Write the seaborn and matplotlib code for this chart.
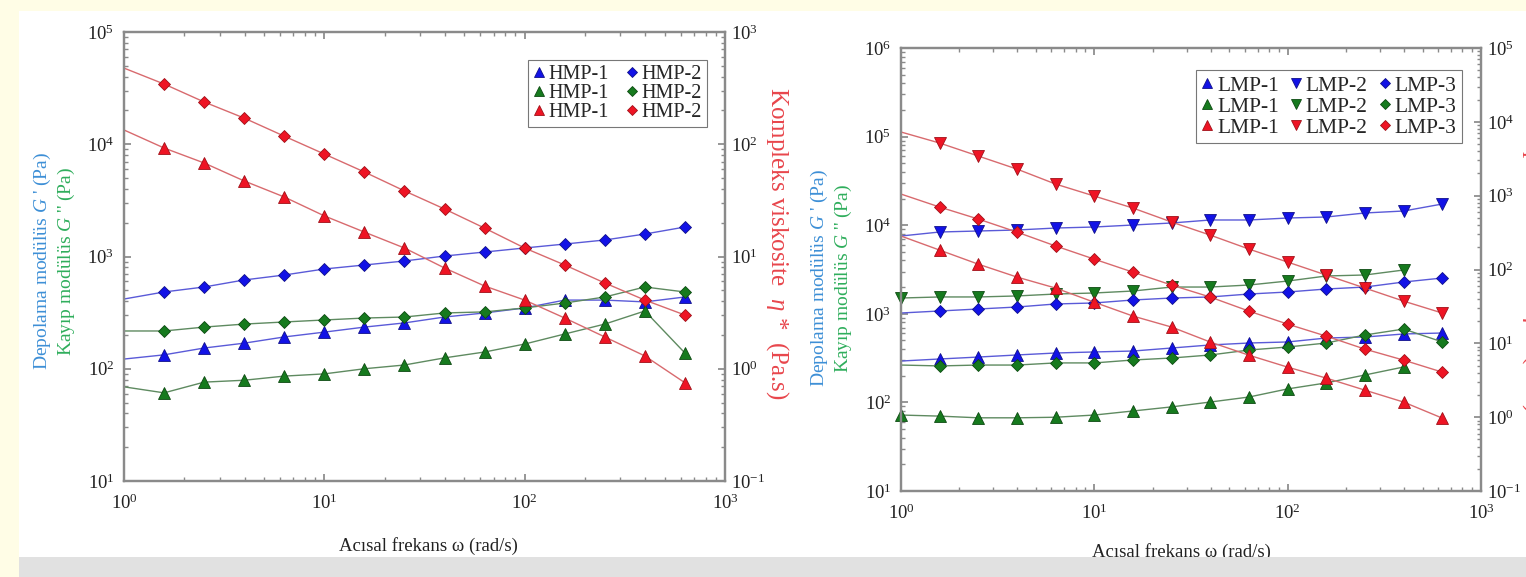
import numpy as np
import pandas as pd
import matplotlib
matplotlib.use("Agg")
import matplotlib.pyplot as plt
from matplotlib.lines import Line2D
from matplotlib.patches import Rectangle
import seaborn as sns

# angular frequency (rad/s), first point has no marker on most curves
freq = [1.0, 1.585, 2.512, 3.981, 6.31, 10.0, 15.85, 25.12, 39.81, 63.1,
        100.0, 158.5, 251.2, 398.1, 631.0]

# left panel (HMP)
hmp1_gp = [122, 133, 153, 169, 192, 212, 235, 256, 289, 314, 348, 409, 409, 394, 436]
hmp1_gpp = [69, 61, 76, 79, 86, 90, 100, 108, 125, 141, 166, 204, 250, 327, 138]
hmp1_eta = [134, 92.6, 68.1, 47.1, 33.9, 23.0, 16.5, 11.9, 7.9, 5.46, 4.09, 2.83, 1.92, 1.30, 0.75]
hmp2_gp = [418, 483, 535, 618, 684, 774, 840, 912, 1010, 1096, 1191, 1291, 1403, 1585, 1831]
hmp2_gpp = [217, 217, 235, 250, 261, 272, 283, 289, 314, 321, 348, 385, 436, 535, 483]
hmp2_eta = [477, 344, 238, 171, 118, 81.8, 56.6, 38.4, 26.5, 17.9, 11.9, 8.4, 5.81, 4.09, 3.01]

# right panel (LMP)
lmp1_gp = [293, 309, 325, 343, 361, 371, 380, 411, 445, 468, 481, 533, 547, 592, 607]
lmp1_gpp = [72, 70, 67, 67, 68, 72, 80, 89, 101, 115, 142, 166, 204, 251]
lmp1_eta = [284, 183, 118, 79, 56, 36, 23.4, 16.6, 10.4, 6.9, 4.76, 3.38, 2.32, 1.60, 0.97]
lmp2_gp = [7550, 8380, 8600, 8830, 9290, 9540, 10050, 10590, 11450, 11450, 12050, 12380,
           13740, 14460, 17350]
lmp2_gpp = [1507, 1549, 1549, 1590, 1672, 1717, 1808, 2005, 2005, 2113, 2343, 2672, 2742, 3120]
lmp2_eta = [7280, 5160, 3440, 2290, 1435, 988, 679, 439, 292, 189, 126, 84, 56, 37.3, 25.7]
lmp3_gp = [1021, 1076, 1133, 1193, 1291, 1325, 1432, 1507, 1549, 1672, 1762, 1905, 2005,
           2284, 2535]
lmp3_gpp = [264, 258, 264, 264, 279, 279, 301, 317, 343, 390, 422, 468, 577, 673, 481]
lmp3_eta = [1051, 701, 482, 321, 208, 138, 92, 61.5, 42.3, 27.3, 18.2, 12.5, 8.34, 5.92, 4.07]

sns.set_theme(style="ticks")
plt.rcParams['font.family'] = ['Liberation Serif', 'DejaVu Serif']
plt.rcParams['mathtext.fontset'] = 'custom'
plt.rcParams['mathtext.rm'] = 'Liberation Serif'
plt.rcParams['mathtext.it'] = 'Liberation Serif:italic'

mk_col = {'b': '#1212e6', 'g': '#167a1e', 'r': '#ee1424'}
ln_col = {'b': '#5a5ad8', 'g': '#5e8a60', 'r': '#d86a6e'}
edge_col = {'b': '#10108a', 'g': '#0d4a12', 'r': '#a01018'}
ms = {'^': 8.5, 'v': 8.5, 'D': 6.5}

fig = plt.figure(figsize=(15.26, 5.77), dpi=100, facecolor='#fffde6')
fig.patches.append(Rectangle((19 / 1526, 20 / 577), 1.0, 546 / 577, transform=fig.transFigure,
                             facecolor='white', edgecolor='none', zorder=-5))
fig.patches.append(Rectangle((19 / 1526, 0), 1.0, 20 / 577, transform=fig.transFigure,
                             facecolor='#e1e1e1', edgecolor='none', zorder=20))

axL = fig.add_axes([124 / 1526, 1 - 481 / 577, 601 / 1526, 449 / 577])
axR = fig.add_axes([901 / 1526, 1 - 491 / 577, 580 / 1526, 443 / 577])
axL2 = axL.twinx()
axR2 = axR.twinx()


def draw(ax, vals, c, m, first_marker=False):
    n = len(vals)
    sns.lineplot(x=freq[:n], y=vals, ax=ax, color=ln_col[c], linewidth=1.0,
                 marker=m, markersize=ms[m], markerfacecolor=mk_col[c],
                 markeredgecolor=edge_col[c], markeredgewidth=0.6,
                 markevery=None if first_marker else slice(1, None),
                 estimator=None, sort=False, legend=False, clip_on=False)


# left panel
draw(axL, hmp1_gp, 'b', '^')
draw(axL, hmp1_gpp, 'g', '^')
draw(axL, hmp2_gp, 'b', 'D')
draw(axL, hmp2_gpp, 'g', 'D')
draw(axL2, hmp1_eta, 'r', '^')
draw(axL2, hmp2_eta, 'r', 'D')

# right panel
draw(axR, lmp1_gp, 'b', '^')
draw(axR, lmp1_gpp, 'g', '^', first_marker=True)
draw(axR, lmp2_gp, 'b', 'v')
draw(axR, lmp2_gpp, 'g', 'v', first_marker=True)
draw(axR, lmp3_gp, 'b', 'D')
draw(axR, lmp3_gpp, 'g', 'D')
draw(axR2, lmp1_eta, 'r', '^')
draw(axR2, lmp2_eta, 'r', 'v')
draw(axR2, lmp3_eta, 'r', 'D')

axL.set_ylim(10, 1e5)
axL2.set_ylim(0.1, 1e3)
axR.set_ylim(10, 1e6)
axR2.set_ylim(0.1, 1e5)
for ax in (axL, axL2, axR, axR2):
    ax.set_xscale('log')
    ax.set_yscale('log')
    ax.set_xlim(1, 1000)
    ax.set_xlabel('')
    ax.set_ylabel('')
    for s in ax.spines.values():
        s.set_color('#8a8a8a')
        s.set_linewidth(1.6)
    ax.tick_params(which='both', direction='in', colors='#8a8a8a', labelcolor='#222222',
                   labelsize=13.5, top=True)
    ax.tick_params(which='major', length=5)
    ax.tick_params(which='minor', length=3)
    ax.patch.set_alpha(0)

for ax in (axL, axR):
    ax.tick_params(axis='y', pad=7)
    ax.tick_params(axis='x', pad=9)
for ax in (axL2, axR2):
    ax.tick_params(axis='y', pad=4)
    ax.tick_params(axis='x', labelbottom=False)

axL.set_facecolor('white')
axL.patch.set_alpha(1)
axR.set_facecolor('white')
axR.patch.set_alpha(1)

blue_lab = '#3d8fd6'
green_lab = '#2fae5c'
red_lab = '#e8464c'

# y labels (two colored lines)
for ax, xb, xg, yc in ((axL, -0.135, -0.095, 0.49), (axR, -0.14, -0.099, 0.48)):
    ax.text(xb, yc, "Depolama modülüs $\\mathit{G}$ ' (Pa)", transform=ax.transAxes,
            rotation=90, ha='center', va='center', color=blue_lab, fontsize=14)
    ax.text(xg, yc, "Kayıp modülüs $\\mathit{G}$ '' (Pa)", transform=ax.transAxes,
            rotation=90, ha='center', va='center', color=green_lab, fontsize=14)

axL2.text(1.087, 0.53, "Kompleks viskosite  $\\mathit{\\eta}$ *  (Pa.s)", transform=axL2.transAxes,
          rotation=-90, ha='center', va='center', color=red_lab, fontsize=18)
axR2.text(1.09, 0.53, "Kompleks viskosite  $\\mathit{\\eta}$ *  (Pa.s)", transform=axR2.transAxes,
          rotation=-90, ha='center', va='center', color=red_lab, fontsize=18)

axL.text(0.506, -0.125, "Acısal frekans ω (rad/s)", transform=axL.transAxes,
         ha='center', va='top', fontsize=13.5, color='#222222')
axR.text(0.484, -0.117, "Acısal frekans ω (rad/s)", transform=axR.transAxes,
         ha='center', va='top', fontsize=13.5, color='#222222')


def handle(c, m):
    return Line2D([], [], linestyle='none', marker=m, markersize=ms[m] - 1.5,
                  markerfacecolor=mk_col[c], markeredgecolor=edge_col[c], markeredgewidth=0.6)


legL_handles = [handle('b', '^'), handle('g', '^'), handle('r', '^'),
                handle('b', 'D'), handle('g', 'D'), handle('r', 'D')]
legL_labels = ['HMP-1'] * 3 + ['HMP-2'] * 3
leg = axL2.legend(legL_handles, legL_labels, ncol=2, loc='upper right',
                  bbox_to_anchor=(0.97, 0.938), fontsize=14.5, frameon=True, fancybox=False,
                  handlelength=0.6, handletextpad=0.15, columnspacing=0.9, labelspacing=0.0,
                  borderpad=0.25, borderaxespad=0)
leg.get_frame().set_edgecolor('#555555')
leg.get_frame().set_linewidth(0.8)

legR_handles = [handle('b', '^'), handle('g', '^'), handle('r', '^'),
                handle('b', 'v'), handle('g', 'v'), handle('r', 'v'),
                handle('b', 'D'), handle('g', 'D'), handle('r', 'D')]
legR_labels = ['LMP-1'] * 3 + ['LMP-2'] * 3 + ['LMP-3'] * 3
leg = axR2.legend(legR_handles, legR_labels, ncol=3, loc='upper right',
                  bbox_to_anchor=(0.967, 0.95), fontsize=15.5, frameon=True, fancybox=False,
                  handlelength=0.6, handletextpad=0.15, columnspacing=0.5, labelspacing=0.05,
                  borderpad=0.25, borderaxespad=0)
leg.get_frame().set_edgecolor('#555555')
leg.get_frame().set_linewidth(0.8)

fig.savefig('out.png', dpi=100, facecolor=fig.get_facecolor())
